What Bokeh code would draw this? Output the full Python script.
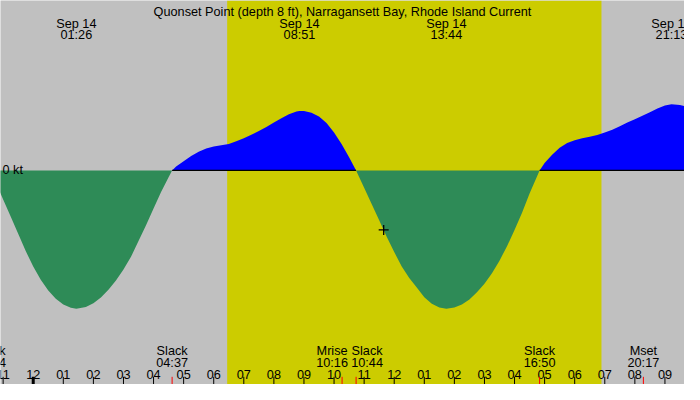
import numpy as np
from bokeh.plotting import figure
from bokeh.models import Range1d, ColumnDataSource
from bokeh.core.properties import value
from bokeh.embed import file_html
from bokeh.resources import INLINE

# ---------------- data (hours since midnight Sep 14, current in knots) ----------------
TITLE = "Quonset Point (depth 8 ft), Narragansett Bay, Rhode Island Current"

times = [-1.433, -1.25, -1.0, -0.75, -0.5, -0.25, 0.0, 0.25, 0.5, 0.75, 1.0, 1.25, 1.433,
         1.75, 2.0, 2.25, 2.5, 2.75, 3.0, 3.25, 3.5, 3.75, 4.0, 4.25, 4.5, 4.617,
         4.75, 5.0, 5.25, 5.5, 5.75, 6.0, 6.25, 6.5, 6.75, 7.0, 7.25, 7.5, 7.75, 8.0,
         8.25, 8.5, 8.75, 8.85, 9.0, 9.25, 9.5, 9.75, 10.0, 10.25, 10.5, 10.733,
         11.0, 11.25, 11.5, 11.75, 12.0, 12.25, 12.5, 12.75, 13.0, 13.25, 13.5, 13.733,
         14.0, 14.25, 14.5, 14.75, 15.0, 15.25, 15.5, 15.75, 16.0, 16.25, 16.5, 16.75, 16.833,
         17.0, 17.25, 17.5, 17.75, 18.0, 18.25, 18.5, 18.75, 19.0, 19.25, 19.5, 19.75,
         20.0, 20.25, 20.5, 20.75, 21.0, 21.217, 21.5, 21.75]
current_kt = [0.0, -0.062, -0.152, -0.24, -0.33, -0.42, -0.50, -0.57, -0.625, -0.668, -0.698, -0.715, -0.72,
              -0.711, -0.692, -0.662, -0.622, -0.573, -0.516, -0.45, -0.368, -0.285, -0.198, -0.112, -0.036, 0.0,
              0.02, 0.048, 0.075, 0.097, 0.114, 0.124, 0.131, 0.138, 0.152, 0.168, 0.186, 0.205, 0.226, 0.249,
              0.272, 0.292, 0.307, 0.31, 0.309, 0.30, 0.281, 0.247, 0.198, 0.137, 0.069, 0.0,
              -0.09, -0.175, -0.26, -0.345, -0.425, -0.50, -0.56, -0.61, -0.66, -0.695, -0.714, -0.72,
              -0.714, -0.698, -0.672, -0.635, -0.59, -0.535, -0.47, -0.395, -0.31, -0.22, -0.12, -0.03, 0.0,
              0.038, 0.082, 0.118, 0.143, 0.157, 0.167, 0.175, 0.185, 0.197, 0.212, 0.23, 0.249,
              0.267, 0.285, 0.303, 0.322, 0.338, 0.345, 0.341, 0.33]

# extremes (top labels)
extreme_times = [1.433, 8.85, 13.733, 21.217]
extreme_dates = ["Sep 14", "Sep 14", "Sep 14", "Sep 14"]
extreme_clock = ["01:26", "08:51", "13:44", "21:13"]

# events (bottom labels)
event_times = [-1.433, 4.617, 10.267, 10.733, 16.833, 20.283]
event_names = ["Slack", "Slack", "Mrise", "Slack", "Slack", "Mset"]
event_clock = ["22:34", "04:37", "10:16", "10:44", "16:50", "20:17"]
event_shift = [0, 0, -10, 11, 0, 0]   # label nudges (px) to avoid overlap

# hour ticks
hours = list(range(-1, 22))
hour_labels = ["11", "12", "01", "02", "03", "04", "05", "06", "07", "08", "09", "10", "11",
               "12", "01", "02", "03", "04", "05", "06", "07", "08", "09"]

sunrise, sunset = 6.447, 18.89
now_time, now_kt = 11.65, -0.31
zero_label = "0 kt"

# ---------------- layout helpers ----------------
W, H = 684, 384
REF_H = 400.0
ZERO_PX = 177.0
PX_PER_KT = 200.0


def ky(px):
    """reference-pixel row -> knots"""
    return (ZERO_PX - px) / PX_PER_KT


X0, X1 = -1.088, 21.65
NIGHT = "#c0c0c0"
DAY = "#cccc00"
EBB = "#2e8b57"
FLOOD = "#0000ff"
FONT = value("Liberation Sans")
FS = "12.7px"

p = figure(width=W, height=H, x_range=Range1d(X0, X1), y_range=Range1d(ky(REF_H), ky(0)),
           output_backend="svg", toolbar_location=None, min_border=0,
           x_axis_type=None, y_axis_type=None)
p.grid.visible = False
p.outline_line_color = None
p.background_fill_color = NIGHT
p.border_fill_color = NIGHT

# daylight band
p.quad(left=[sunrise], right=[sunset], bottom=[ky(REF_H)], top=[ky(0)],
       fill_color=DAY, line_color=None)

t = np.array(times)
v = np.array(current_kt)
neg = np.minimum(v, 0.0)
pos = np.maximum(v, 0.0)
p.varea(x=t, y1=np.zeros_like(t), y2=neg, fill_color=EBB)
p.varea(x=t, y1=np.zeros_like(t), y2=pos, fill_color=FLOOD)

# zero line beneath flood only: runs of non-negative current
runs_x, cur = [], []
for ti, vi in zip(times, current_kt):
    if vi >= 0:
        cur.append(ti)
    else:
        if len(cur) > 1:
            runs_x.append(cur)
        cur = []
if len(cur) > 1:
    runs_x.append(cur)
p.multi_line(xs=runs_x, ys=[[0.0] * len(r) for r in runs_x], line_color="black", line_width=1.2)

# current-time cross
p.scatter(x=[now_time], y=[now_kt], marker="cross", size=10, line_color="black", line_width=1.3)

# title
p.text(x=[(X0 + X1) / 2], y=[ky(12)], text=[TITLE], text_font=FONT, text_font_size=FS,
       text_align="center", text_baseline="alphabetic", text_color="black")

# extreme labels
src_e = ColumnDataSource(dict(x=extreme_times, d=extreme_dates, c=extreme_clock))
p.text(x="x", y=ky(24), text="d", source=src_e, text_font=FONT, text_font_size=FS,
       text_align="center", text_baseline="alphabetic", text_color="black")
p.text(x="x", y=ky(36), text="c", source=src_e, text_font=FONT, text_font_size=FS,
       text_align="center", text_baseline="alphabetic", text_color="black")

# zero label
p.text(x=[X0], y=[0.0], text=[zero_label], text_font=FONT, text_font_size=FS,
       text_align="left", text_baseline="middle", text_color="black", x_offset=2)

# event labels
src_v = ColumnDataSource(dict(x=event_times, n=event_names, c=event_clock, s=event_shift))
p.text(x="x", y=ky(365.5), text="n", source=src_v, x_offset="s", text_font=FONT, text_font_size=FS,
       text_align="center", text_baseline="alphabetic", text_color="black")
p.text(x="x", y=ky(378), text="c", source=src_v, x_offset="s", text_font=FONT, text_font_size=FS,
       text_align="center", text_baseline="alphabetic", text_color="black")

# hour labels and ticks
p.text(x=hours, y=ky(389.5), text=hour_labels, text_font=FONT, text_font_size=FS,
       text_align="center", text_baseline="alphabetic", text_color="black")
normal = [h for h in hours if h % 24 != 0]
mid = [h for h in hours if h % 24 == 0]
p.segment(x0=normal, y0=ky(392), x1=normal, y1=ky(400), line_color="black", line_width=1)
p.segment(x0=mid, y0=ky(392), x1=mid, y1=ky(400), line_color="black", line_width=3)
p.segment(x0=event_times, y0=ky(392), x1=event_times, y1=ky(400), line_color="red", line_width=1)

open("out.html", "w").write(file_html(p, INLINE))
